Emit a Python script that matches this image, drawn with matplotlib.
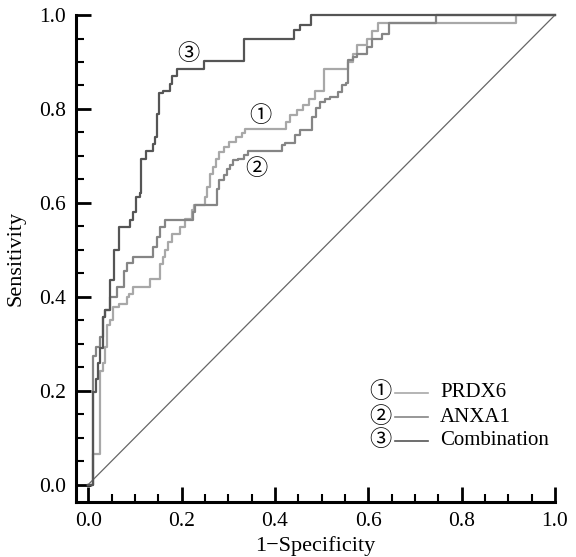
import numpy as np
import matplotlib
matplotlib.use("Agg")
import matplotlib.pyplot as plt
from matplotlib.ticker import MultipleLocator

# ROC corner points (1-specificity, sensitivity)
prdx6_fpr = [0.0, 0.011, 0.026, 0.031, 0.035, 0.040, 0.046, 0.054, 0.067, 0.083, 0.088,
             0.097, 0.133, 0.154, 0.160, 0.165, 0.170, 0.179, 0.197, 0.208, 0.222, 0.226,
             0.250, 0.255, 0.261, 0.268, 0.274, 0.281, 0.290, 0.302, 0.317, 0.329, 0.335,
             0.424, 0.433, 0.447, 0.461, 0.472, 0.486, 0.505, 0.557, 0.567, 0.575, 0.597,
             0.607, 0.620, 0.917, 1.0]
prdx6_tpr = [0.0, 0.065, 0.243, 0.258, 0.293, 0.339, 0.350, 0.378, 0.385, 0.400, 0.407,
             0.420, 0.438, 0.470, 0.485, 0.499, 0.517, 0.534, 0.549, 0.566, 0.584, 0.595,
             0.613, 0.634, 0.662, 0.677, 0.694, 0.708, 0.719, 0.730, 0.741, 0.748, 0.758,
             0.772, 0.787, 0.797, 0.808, 0.822, 0.838, 0.886, 0.900, 0.918, 0.936, 0.950,
             0.966, 0.982, 1.0, 1.0]

anxa1_fpr = [0.0, 0.011, 0.016, 0.026, 0.031, 0.036, 0.046, 0.061, 0.076, 0.083, 0.097,
             0.138, 0.147, 0.154, 0.165, 0.225, 0.229, 0.275, 0.281, 0.290, 0.297, 0.304,
             0.311, 0.322, 0.333, 0.343, 0.415, 0.422, 0.443, 0.454, 0.479, 0.488, 0.497,
             0.507, 0.518, 0.536, 0.543, 0.552, 0.557, 0.568, 0.575, 0.597, 0.607, 0.629,
             0.645, 0.746, 1.0]
anxa1_tpr = [0.0, 0.275, 0.293, 0.314, 0.357, 0.371, 0.400, 0.420, 0.456, 0.471, 0.485,
             0.506, 0.527, 0.549, 0.564, 0.580, 0.595, 0.630, 0.648, 0.659, 0.673, 0.680,
             0.691, 0.694, 0.701, 0.710, 0.723, 0.728, 0.744, 0.756, 0.783, 0.801, 0.815,
             0.822, 0.826, 0.836, 0.851, 0.855, 0.904, 0.911, 0.918, 0.932, 0.950, 0.960,
             0.982, 1.0, 1.0]

combo_fpr = [0.0, 0.011, 0.016, 0.020, 0.026, 0.031, 0.036, 0.046, 0.056, 0.067, 0.090,
             0.097, 0.103, 0.110, 0.113, 0.124, 0.138, 0.143, 0.148, 0.152, 0.160, 0.176,
             0.180, 0.190, 0.248, 0.333, 0.441, 0.454, 0.478, 1.0]
combo_tpr = [0.0, 0.197, 0.226, 0.258, 0.290, 0.356, 0.371, 0.435, 0.500, 0.549, 0.563,
             0.580, 0.613, 0.620, 0.694, 0.710, 0.726, 0.741, 0.790, 0.833, 0.838, 0.854,
             0.870, 0.886, 0.902, 0.950, 0.968, 0.979, 1.0, 1.0]

names = ["PRDX6", "ANXA1", "Combination"]
marks = ["\u2460", "\u2461", "\u2462"]
colors = ["#a8a8a8", "#858585", "#555555"]

serif = "Liberation Serif"
circ = [serif, "Noto Sans CJK SC", "DejaVu Sans"]

fig = plt.figure(figsize=(5.76, 5.57), dpi=100)
ax = fig.add_axes([0.132, 0.0987, 0.8315, 0.8743])

ax.plot([0, 1], [0, 1], color="#666666", lw=0.9, clip_on=False)

curves = [(prdx6_fpr, prdx6_tpr), (anxa1_fpr, anxa1_tpr), (combo_fpr, combo_tpr)]
for (fx, ty), c in zip(curves, colors):
    ax.step(fx, ty, where="post", color=c, lw=1.6, clip_on=False)

# circled labels on the curves
ax.text(0.368, 0.783, marks[0], family=circ, fontsize=16, ha="center", va="center")
ax.text(0.360, 0.670, marks[1], family=circ, fontsize=16, ha="center", va="center")
ax.text(0.215, 0.915, marks[2], family=circ, fontsize=16, ha="center", va="center")

# hand-made legend
ys = [0.196, 0.143, 0.094]
for m, n, c, y in zip(marks, names, colors, ys):
    ax.text(0.625, y, m, family=circ, fontsize=16, ha="center", va="center")
    ax.plot([0.658, 0.729], [y, y], color=c, lw=1.2)
    ax.text(0.754, y, n, family=serif, fontsize=15, ha="left", va="center")

ax.set_xlim(-0.026, 1.0)
ax.set_ylim(-0.037, 1.0)

for s in ["top", "right"]:
    ax.spines[s].set_visible(False)
for s in ["left", "bottom"]:
    ax.spines[s].set_linewidth(2.2)

ax.xaxis.set_major_locator(MultipleLocator(0.2))
ax.xaxis.set_minor_locator(MultipleLocator(0.05))
ax.yaxis.set_major_locator(MultipleLocator(0.2))
ax.yaxis.set_minor_locator(MultipleLocator(0.05))
ax.tick_params(which="major", direction="in", length=11, width=2, labelsize=15.5, pad=7)
ax.tick_params(which="minor", direction="in", length=5.5, width=1.5)
ax.set_xticks(np.arange(0, 1.01, 0.2))
ax.set_xticklabels([f"{v:.1f}" for v in np.arange(0, 1.01, 0.2)], family=serif)
ax.set_yticks(np.arange(0, 1.01, 0.2))
ax.set_yticklabels([f"{v:.1f}" for v in np.arange(0, 1.01, 0.2)], family=serif)

ax.set_xlabel("1\u2212Specificity", family=serif, fontsize=16, labelpad=4)
ax.set_ylabel("Sensitivity", family=serif, fontsize=16, labelpad=10)

fig.savefig("out.png", dpi=100)
